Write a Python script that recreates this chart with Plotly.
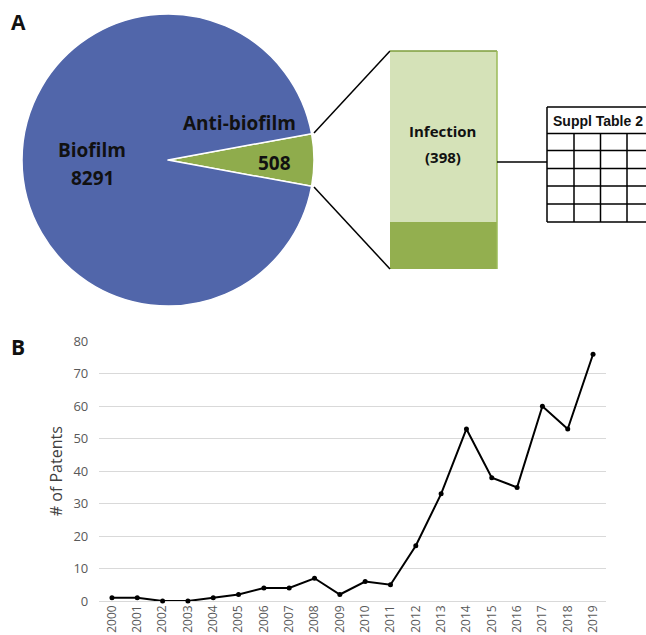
import plotly.graph_objects as go

# ---------------- data ----------------
pie_labels = ["Anti-biofilm", "Biofilm"]
pie_values = [508, 8291]

bar_labels = ["Other", "Infection"]
bar_values = [110, 398]

years = [str(y) for y in range(2000, 2020)]
patents = [1, 1, 0, 0, 1, 2, 4, 4, 7, 2, 6, 5, 17, 33, 53, 38, 35, 60, 53, 76]

table_title = "Suppl Table 2"
y_ticks = [0, 10, 20, 30, 40, 50, 60, 70, 80]

# ---------------- layout helpers ----------------
W, H = 646, 635
def px(x):
    return x / W
def py(y):
    return 1 - y / H

BLUE = "#5166AA"
GREEN = "#8FAC4C"
LIGHT = "#D5E2B8"
DARK = "#93AF4F"

fig = go.Figure()

# Pie (panel A)
anti_frac = pie_values[0] / sum(pie_values)
rot = 90 - anti_frac * 360 / 2
fig.add_trace(go.Pie(
    labels=pie_labels, values=pie_values, sort=False, direction="clockwise",
    rotation=rot, marker=dict(colors=[GREEN, BLUE], line=dict(color="white", width=1.5)),
    textinfo="none", hoverinfo="label+value", showlegend=False,
    domain=dict(x=[px(22), px(314)], y=[py(306), py(14)]),
))

# Stacked bar (zoom of anti-biofilm)
fig.add_trace(go.Bar(x=["Anti-biofilm"], y=[bar_values[0]], marker=dict(color=DARK, line=dict(width=0)),
                     xaxis="x2", yaxis="y2", showlegend=False, name=bar_labels[0]))
fig.add_trace(go.Bar(x=["Anti-biofilm"], y=[bar_values[1]], marker=dict(color=LIGHT, line=dict(width=0)),
                     xaxis="x2", yaxis="y2", showlegend=False, name=bar_labels[1]))

# Line chart (panel B)
fig.add_trace(go.Scatter(x=years, y=patents, mode="lines+markers",
                         line=dict(color="black", width=2), marker=dict(color="black", size=5),
                         showlegend=False, cliponaxis=False))

shapes = []
def seg(x0, y0, x1, y1, color="black", width=1.5):
    shapes.append(dict(type="line", xref="paper", yref="paper", x0=px(x0), y0=py(y0), x1=px(x1), y1=py(y1),
                       line=dict(color=color, width=width)))

# connector lines from pie wedge to bar
seg(314, 133, 390, 51)
seg(314, 187, 390, 269)
# bar outline accents
seg(390, 51, 497, 51, color="#7E9E3C")
seg(497, 51, 497, 269, color="#9BBB59")
# connector to table
seg(497, 162, 547, 162)
# table
t_left, t_top, t_head, t_bot = 547, 107, 133.5, 222
row_lines = [150.5, 168.5, 186, 204]
col_lines = [574, 600.5, 627]
seg(t_left, t_top, W + 5, t_top)
seg(t_left, t_top, t_left, t_bot)
for yy in [t_head] + row_lines + [t_bot]:
    seg(t_left, yy, W + 5, yy)
for xx in col_lines:
    seg(xx, t_head, xx, t_bot)

LBL = dict(family="Open Sans, Arial, sans-serif", color="#111111")
annotations = [
    dict(text="<b>A</b>", x=px(18), y=py(22), font=dict(size=21, **LBL)),
    dict(text="<b>B</b>", x=px(18), y=py(347), font=dict(size=21, **LBL)),
    dict(text=f"<b>{pie_labels[1]}</b>", x=px(92.5), y=py(150), font=dict(size=19, **LBL)),
    dict(text=f"<b>{pie_values[1]}</b>", x=px(92.5), y=py(178), font=dict(size=19, **LBL)),
    dict(text=f"<b>{pie_labels[0]}</b>", x=px(239), y=py(123), font=dict(size=19, **LBL)),
    dict(text=f"<b>{pie_values[0]}</b>", x=px(274), y=py(163), font=dict(size=19, **LBL)),
    dict(text=f"<b>{bar_labels[1]}</b>", x=px(442), y=py(131), font=dict(size=15, **LBL)),
    dict(text=f"<b>({bar_values[1]})</b>", x=px(443), y=py(157), font=dict(size=15, **LBL)),
    dict(text=f"<b>{table_title}</b>", x=px(551), y=py(121), xanchor="left",
         font=dict(size=14, family="Liberation Sans, Arial, sans-serif", color="#111111")),
]
for a in annotations:
    a.setdefault("xref", "paper")
    a.setdefault("yref", "paper")
    a.setdefault("showarrow", False)
    a.setdefault("xanchor", "center")
    a.setdefault("yanchor", "middle")

fig.update_layout(
    template="none",
    width=W, height=H, margin=dict(l=0, r=0, t=0, b=0, pad=0, autoexpand=False),
    paper_bgcolor="white", plot_bgcolor="white", showlegend=False,
    barmode="stack", bargap=0,
    shapes=shapes, annotations=annotations,
    xaxis=dict(domain=[px(99.3), px(605.7)], type="category", range=[-0.5, 19.5], automargin=False,
               showgrid=False, showline=False, zeroline=False, ticks="", tickangle=-90,
               ticklabelstandoff=1,
               tickfont=dict(size=12, color="#595959", family="Open Sans, Arial, sans-serif")),
    yaxis=dict(domain=[py(601), py(341.3)], range=[0, 80], tickvals=y_ticks, automargin=False,
               showgrid=True, gridcolor="#D9D9D9", gridwidth=1, zeroline=True, zerolinecolor="#D9D9D9",
               zerolinewidth=1, showline=False, ticks="", ticklabelstandoff=10,
               tickfont=dict(size=13, color="#595959", family="Open Sans, Arial, sans-serif"),
               title=dict(text="# of Patents", standoff=6,
                          font=dict(size=16, color="#404040", family="Open Sans, Arial, sans-serif"))),
    xaxis2=dict(domain=[px(390), px(497)], anchor="y2", range=[-0.5, 0.5], visible=False, automargin=False),
    yaxis2=dict(domain=[py(269), py(51)], anchor="x2", range=[0, sum(bar_values)], visible=False, automargin=False),
)

fig.write_html("out.html", config={"displayModeBar": False},
               post_script="document.body.style.margin='0';document.body.style.padding='0';")
